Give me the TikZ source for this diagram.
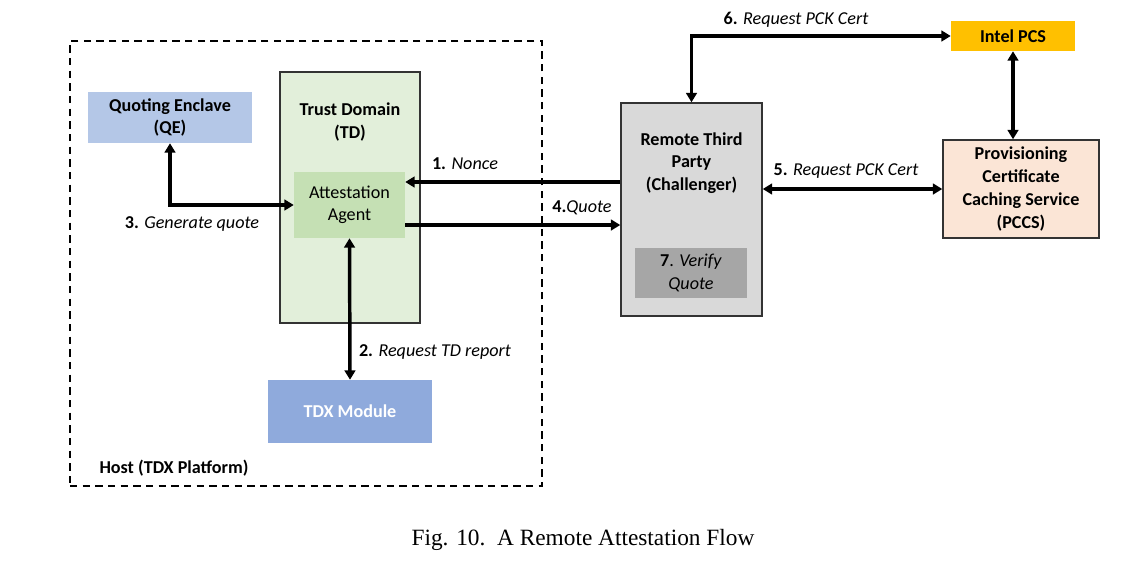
\documentclass[tikz,border=0pt]{standalone}
\usepackage{fontspec}
\setmainfont{Carlito}
\newfontfamily\capfont{Liberation Serif}
\usepackage{xcolor}
\usetikzlibrary{positioning, arrows.meta}
\definecolor{qeblue}{HTML}{B4C7E7}
\definecolor{tdgreen}{HTML}{E2EFDA}
\definecolor{aagreen}{HTML}{C5E0B4}
\definecolor{tdxblue}{HTML}{8FAADC}
\definecolor{rtpgrey}{HTML}{D9D9D9}
\definecolor{vqgrey}{HTML}{A6A6A6}
\definecolor{pcsgold}{HTML}{FFC000}
\definecolor{pccspeach}{HTML}{FBE5D6}

\begin{document}
\begin{tikzpicture}[
  x=0.75pt, y=-0.75pt,
  every node/.style={sharp corners, align=center, font=\fontsize{13.6}{16.8}\selectfont},
  boldtxt/.style={font=\fontsize{13.6}{16.8}\selectfont\bfseries},
  box/.style n args={1}{
    rectangle, fill=#1, align=center, inner sep=2pt
  },
  framed/.style n args={1}{
    rectangle, fill=#1, draw=black!80, line width=1.1pt, align=center, inner sep=2pt
  },
  flowarrow/.style={
    line width=2.6pt, -{Triangle[length=7pt, width=8pt]}, color=black
  },
  botharrow/.style={
    line width=2.6pt, {Triangle[length=7pt, width=8pt]}-{Triangle[length=7pt, width=8pt]}, color=black
  },
  steplabel/.style={inner sep=1pt}
]

\useasboundingbox (0,0) rectangle (1138,572);

%% === HOST PLATFORM ===
\node[draw, line width=1.1pt, minimum width=354pt, minimum height=333.75pt,
      dash pattern=on 5.5pt off 4pt] (host) at (306,263.5) {};
\node[boldtxt] (hostlbl) at (174,468) {Host (TDX Platform)};

\node[box={qeblue}, minimum width=123pt, minimum height=38.25pt, boldtxt] (qe) at (170,117.5) {Quoting Enclave\\(QE)};

\node[framed={tdgreen}, minimum width=105pt, minimum height=188.25pt] (td) at (350,197.5) {};
\node[boldtxt] (tdlbl) at (350,122) {Trust Domain\\(TD)};

\node[box={aagreen}, minimum width=83.25pt, minimum height=49.5pt] (aa) at (349.5,205) {Attestation\\Agent};

\node[box={tdxblue}, minimum width=123pt, minimum height=47.25pt, text=white, boldtxt] (tdx) at (350,411.5) {TDX Module};

%% === REMOTE SIDE ===
\node[framed={rtpgrey}, minimum width=105.75pt, minimum height=159.75pt] (rtp) at (691.5,209.5) {};
\node[boldtxt] (rtplbl) at (691.5,163) {Remote Third\\Party\\(Challenger)};
\node[box={vqgrey}, minimum width=84pt, minimum height=37.5pt] (vq) at (691,273) {\textbf{7}. \textit{Verify}\\\textit{Quote}};

\node[box={pcsgold}, minimum width=93pt, minimum height=22.5pt, boldtxt] (pcs) at (1013,36) {Intel PCS};

\node[framed={pccspeach}, minimum width=117pt, minimum height=73.5pt,
      font=\fontsize{13.6}{17.4}\selectfont\bfseries] (pccs) at (1021,189) {Provisioning\\Certificate\\Caching Service\\(PCCS)};

%% === ARROWS ===
\coordinate (noncein) at ([yshift=17.25pt]aa.east);
\coordinate (quoteout) at ([yshift=-15pt]aa.east);

\draw[flowarrow] (noncein -| rtp.west) -- (noncein);
\draw[flowarrow] (quoteout) -- (quoteout -| rtp.west);
\draw[botharrow] (aa.west) -| (qe.south);
\draw[botharrow] (aa.south) -- (tdx.north);
\draw[botharrow] (pccs.west -| rtp.east) -- (pccs.west);
\draw[botharrow] (rtp.north) |- (pcs.west);
\draw[botharrow] (pcs.south) -- (pcs.south |- pccs.north);

%% === STEP LABELS ===
\node[steplabel] (l1) at (465,164) {\textbf{1.} \textit{Nonce}};
\node[steplabel] (l2) at (435,352) {\textbf{2.} \textit{Request TD report}};
\node[steplabel] (l3) at (192,224) {\textbf{3.} \textit{Generate quote}};
\node[steplabel] (l4) at (582,208) {\textbf{4.}\textit{Quote}};
\node[steplabel] (l5) at (846,171) {\textbf{5.} \textit{Request PCK Cert}};
\node[steplabel] (l6) at (796,20) {\textbf{6.} \textit{Request PCK Cert}};

%% === CAPTION ===
\node[font=\capfont\fontsize{17.5}{21}\selectfont] (caption) at (583,540) {Fig. 10.\ \ A Remote Attestation Flow};

\end{tikzpicture}
\end{document}
